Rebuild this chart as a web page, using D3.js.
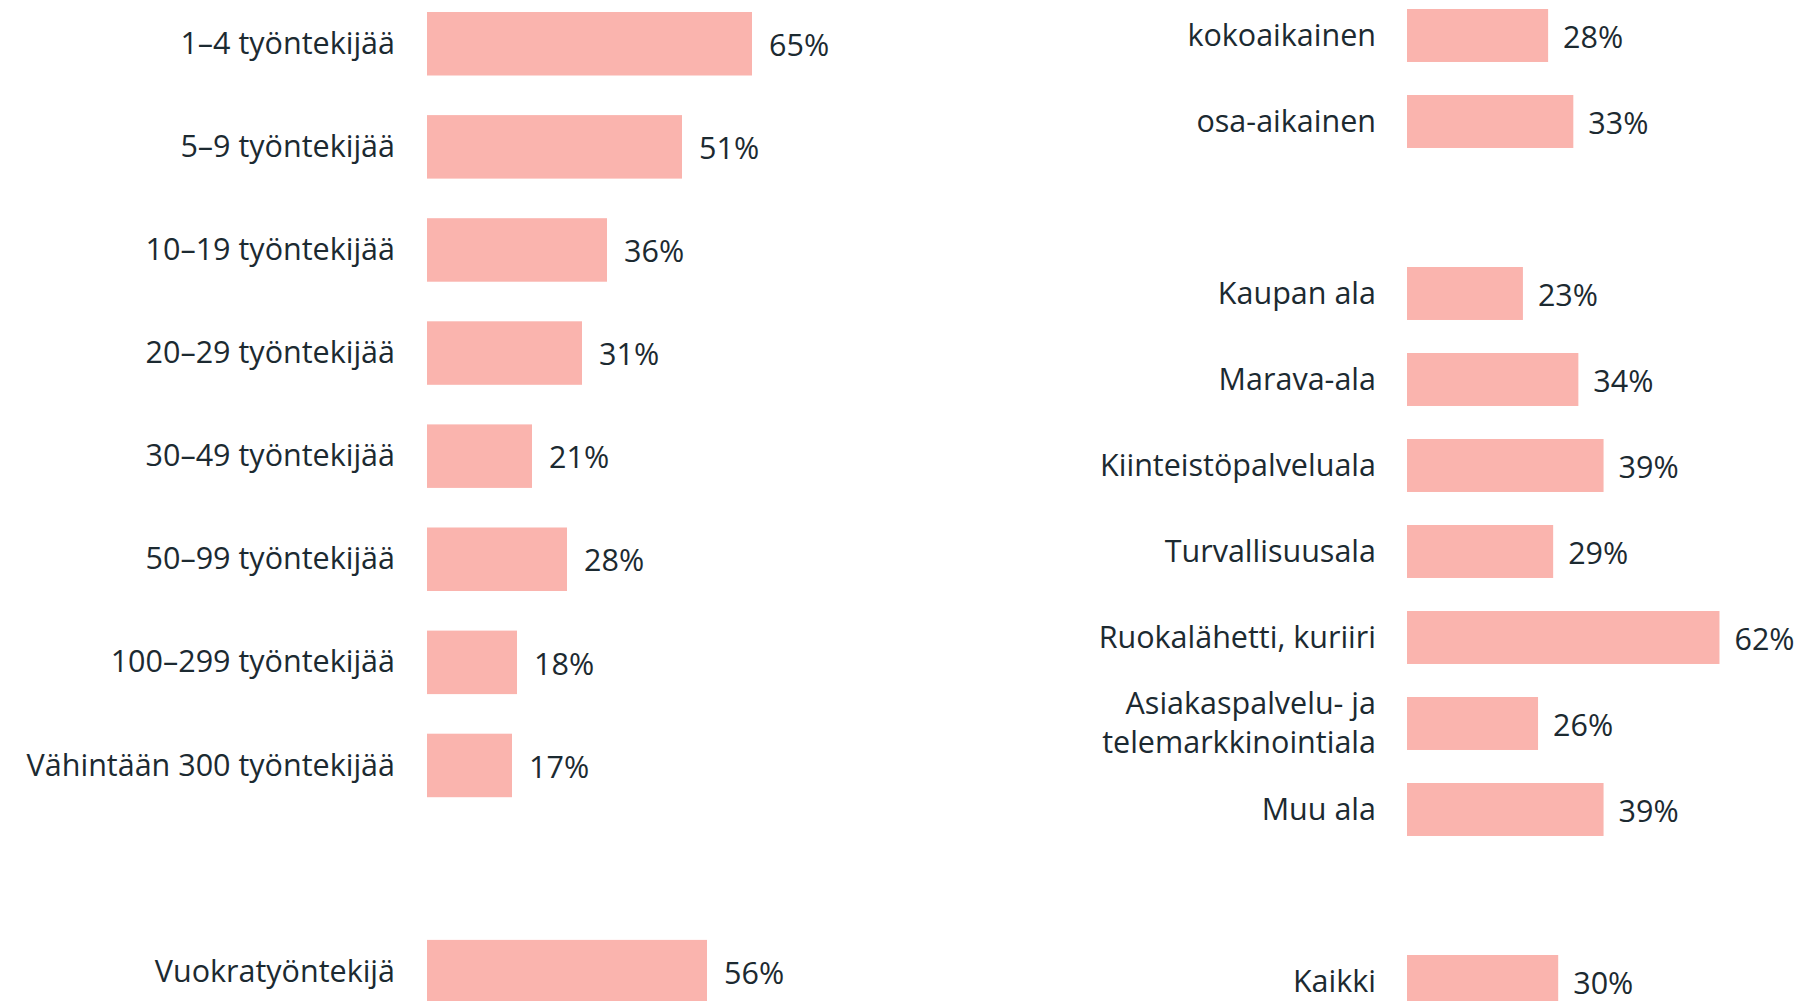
<!DOCTYPE html>
<html lang="fi">
<head>
<meta charset="utf-8">
<script src="https://cdn.jsdelivr.net/npm/d3@7/dist/d3.min.js"></script>
<style>
  html, body { margin: 0; padding: 0; background: #ffffff; }
  svg { display: block; }
  text { font-family: "Open Sans", Lato, "Noto Sans", sans-serif; fill: #1c2a31; }
</style>
</head>
<body>
<svg id="chart" width="1796" height="1001"></svg>
<script>
// Yrityksen koko (henkilöstömäärä)
const sizeCats = ["1–4 työntekijää", "5–9 työntekijää", "10–19 työntekijää", "20–29 työntekijää",
                  "30–49 työntekijää", "50–99 työntekijää", "100–299 työntekijää", "Vähintään 300 työntekijää"];
const sizeVals = [65, 51, 36, 31, 21, 28, 18, 17];

// Vuokratyö
const agencyCats = ["Vuokratyöntekijä"];
const agencyVals = [56];

// Työaika
const hoursCats = ["kokoaikainen", "osa-aikainen"];
const hoursVals = [28, 33];

// Toimiala
const sectorCats = ["Kaupan ala", "Marava-ala", "Kiinteistöpalveluala", "Turvallisuusala",
                    "Ruokalähetti, kuriiri", "Asiakaspalvelu- ja\ntelemarkkinointiala", "Muu ala"];
const sectorVals = [23, 34, 39, 29, 62, 26, 39];

// Kaikki vastaajat
const totalCats = ["Kaikki"];
const totalVals = [30];

const BAR = "#fab4ae";
const svg = d3.select("#chart");

function rows(cats, vals) { return cats.map((c, i) => ({ cat: c, val: vals[i] })); }

// One panel: a list of groups separated by an empty slot
function panel(groups, opt) {
  const slots = [];
  groups.forEach((g, gi) => {
    if (gi > 0) slots.push({ gap: true, key: "gap" + gi });
    g.forEach(d => slots.push({ ...d, key: d.cat }));
  });
  const data = slots.filter(s => !s.gap);

  const y = d3.scaleBand()
    .domain(slots.map(s => s.key))
    .range([opt.top, opt.top + opt.step * (slots.length - opt.pad)])
    .paddingInner(opt.pad)
    .paddingOuter(0)
    .align(0);

  const x = d3.scaleLinear().domain([0, 100]).range([opt.x0, opt.x0 + opt.pxPer100]);

  const g = svg.append("g");

  g.selectAll("rect").data(data).join("rect")
    .attr("x", x(0))
    .attr("y", d => y(d.key))
    .attr("width", d => x(d.val) - x(0))
    .attr("height", y.bandwidth())
    .attr("fill", BAR);

  // category labels (right-aligned, may wrap to two lines)
  g.selectAll("text.cat").data(data).join("text")
    .attr("class", "cat")
    .attr("text-anchor", "end")
    .attr("font-size", opt.fs)
    .each(function (d) {
      const lines = d.cat.split("\n");
      const cy = y(d.key) + y.bandwidth() / 2;
      const lh = opt.fs * 1.3;
      const first = cy - (lines.length - 1) * lh / 2 + opt.fs * 0.33;
      d3.select(this).selectAll("tspan").data(lines).join("tspan")
        .attr("x", x(0) - opt.labelGap)
        .attr("y", (l, i) => first + i * lh)
        .text(l => l);
    });

  // value labels
  g.selectAll("text.val").data(data).join("text")
    .attr("class", "val")
    .attr("font-size", opt.fs)
    .attr("x", d => x(d.val) + opt.valGap)
    .attr("y", d => y(d.key) + y.bandwidth() / 2 + opt.fs * 0.4)
    .text(d => d.val + "%");
}

panel([rows(sizeCats, sizeVals), rows(agencyCats, agencyVals)],
  { x0: 427, pxPer100: 500, top: 12, step: 103.1, pad: 0.384, fs: 30.5, labelGap: 32, valGap: 17 });

panel([rows(hoursCats, hoursVals), rows(sectorCats, sectorVals), rows(totalCats, totalVals)],
  { x0: 1407, pxPer100: 504, top: 9, step: 86, pad: 0.384, fs: 30.5, labelGap: 31, valGap: 15 });
</script>
</body>
</html>
